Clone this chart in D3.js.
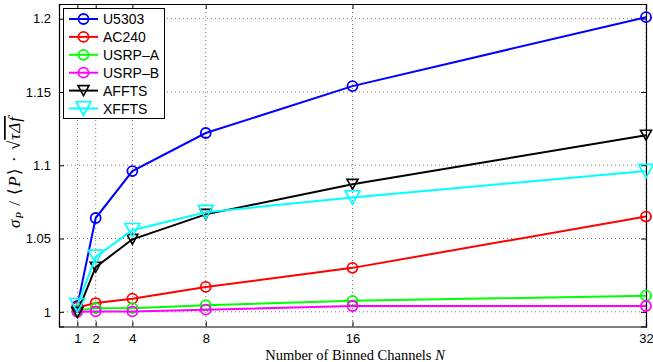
<!DOCTYPE html>
<html>
<head>
<meta charset="utf-8">
<script src="https://cdn.jsdelivr.net/npm/d3@7"></script>
<style>
	body { margin: 0; background: #fff; }
	.grid line { stroke: #555; stroke-dasharray: 1 3; stroke-width: 0.8; }
</style>
</head>
<body>
<svg id="plot" width="653" height="362"></svg>
<script>

const CHANNELS = [1, 2, 4, 8, 16, 32];
const X_TICKS = [1, 2, 4, 8, 16, 32];
const Y_TICKS = [1, 1.05, 1.1, 1.15, 1.2];

const U5303 = [1.004, 1.064, 1.096, 1.122, 1.154, 1.201];
const AC240 = [1.003, 1.006, 1.009, 1.017, 1.030, 1.065];
const USRP_A = [1.001, 1.0025, 1.0025, 1.0045, 1.0075, 1.011];
const USRP_B = [1.000, 1.0003, 1.0003, 1.0015, 1.004, 1.004];
const AFFTS = [0.9995, 1.0305, 1.0495, 1.0665, 1.087, 1.1205];
const XFFTS = [1.0045, 1.0375, 1.0557, 1.068, 1.078, 1.096];

const SERIES = [
	{ name: 'U5303', values: U5303, color: '#0000ff', marker: 'circle' },
	{ name: 'AC240', values: AC240, color: '#ff0000', marker: 'circle' },
	{ name: 'USRP\u2012A', values: USRP_A, color: '#00ff00', marker: 'circle' },
	{ name: 'USRP\u2012B', values: USRP_B, color: '#ff00ff', marker: 'circle' },
	{ name: 'AFFTS', values: AFFTS, color: '#000000', marker: 'tri' },
	{ name: 'XFFTS', values: XFFTS, color: '#00ffff', marker: 'bigtri' }
];

const SANS = '"Liberation Sans", Arial, sans-serif';
const SERIF = '"Liberation Serif", "Times New Roman", serif';
const L = 59, R = 646, T = 4, B = 326.5;

const svg = d3.select('#plot');
const x = d3.scaleLinear().domain([0, 32]).range([L, R]);
const y = d3.scaleLinear().domain([0.99, 1.21]).range([B, T]);

// grid
const grid = svg.append('g').attr('class', 'grid');
grid.selectAll('.gx').data(X_TICKS).enter().append('line')
	.attr('x1', d => x(d)).attr('x2', d => x(d)).attr('y1', T).attr('y2', B);
grid.selectAll('.gy').data(Y_TICKS).enter().append('line')
	.attr('x1', L).attr('x2', R).attr('y1', d => y(d)).attr('y2', d => y(d));

// axes, ticks inward on all four sides
const fmt = d => d3.format('~g')(d);
svg.append('g').attr('transform', `translate(0,${B})`)
	.call(d3.axisBottom(x).tickValues(X_TICKS).tickSize(-5).tickPadding(7).tickFormat(fmt));
svg.append('g').attr('transform', `translate(0,${T})`)
	.call(d3.axisTop(x).tickValues(X_TICKS).tickSize(-5).tickFormat(''));
svg.append('g').attr('transform', `translate(${L},0)`)
	.call(d3.axisLeft(y).tickValues(Y_TICKS).tickSize(-5).tickPadding(8).tickFormat(fmt));
svg.append('g').attr('transform', `translate(${R},0)`)
	.call(d3.axisRight(y).tickValues(Y_TICKS).tickSize(-5).tickFormat(''));
svg.selectAll('.domain').attr('stroke', '#000').attr('stroke-width', 1.2);
svg.selectAll('.tick line').attr('stroke', '#000');
svg.selectAll('.tick text').attr('font-size', 13).attr('fill', '#000')
	.style('font-family', SANS);

const triPath = (s) => {
	const h = s * 0.9;
	return `M${-s / 2},${-h / 2}L${s / 2},${-h / 2}L0,${h / 2}Z`;
};

function drawMarker(g, m, color) {
	if (m === 'circle') {
		g.append('circle').attr('r', 5).attr('fill', 'none')
			.attr('stroke', color).attr('stroke-width', 1.8);
	} else {
		const s = m === 'tri' ? 11 : 15;
		g.append('path').attr('d', triPath(s)).attr('fill', 'none')
			.attr('stroke', color).attr('stroke-width', 1.6);
	}
}

const line = d3.line().x(d => x(d[0])).y(d => y(d[1]));

SERIES.forEach(s => {
	const pts = CHANNELS.map((c, i) => [c, s.values[i]]);
	svg.append('path').datum(pts).attr('d', line)
		.attr('fill', 'none').attr('stroke', s.color).attr('stroke-width', 2);
	pts.forEach(p => {
		const g = svg.append('g').attr('transform', `translate(${x(p[0])},${y(p[1])})`);
		drawMarker(g, s.marker, s.color);
	});
});

// legend
const leg = svg.append('g');
leg.append('rect').attr('x', 63.5).attr('y', 8.5).attr('width', 101).attr('height', 110)
	.attr('fill', '#fff').attr('stroke', '#000').attr('stroke-width', 1);
SERIES.forEach((s, i) => {
	const yy = 19 + i * 17.9;
	leg.append('line').attr('x1', 69).attr('x2', 98).attr('y1', yy).attr('y2', yy)
		.attr('stroke', s.color).attr('stroke-width', 2);
	const g = leg.append('g').attr('transform', `translate(83.5,${yy})`);
	drawMarker(g, s.marker, s.color);
	leg.append('text').attr('x', 103).attr('y', yy + 5).attr('font-size', 14)
		.style('font-family', SANS).text(s.name);
});

// axis labels
svg.append('text').attr('x', 355).attr('y', 360).attr('text-anchor', 'middle')
	.style('font-family', SERIF).attr('font-size', 14.5)
	.text('Number of Binned Channels ')
	.append('tspan').attr('font-style', 'italic').text('N');

const yl = svg.append('text').attr('transform', 'translate(20,172) rotate(-90)')
	.attr('text-anchor', 'middle')
	.style('font-family', SERIF).attr('font-size', 17).attr('letter-spacing', 1);
yl.append('tspan').attr('font-style', 'italic').text('σ');
yl.append('tspan').attr('font-style', 'italic').attr('font-size', 11).attr('dy', 3).text('P');
yl.append('tspan').attr('dy', -3).text(' / ⟨');
yl.append('tspan').attr('font-style', 'italic').text('P');
yl.append('tspan').text('⟩ · √');
yl.append('tspan').attr('font-style', 'italic').attr('text-decoration', 'overline').text('τΔf');

</script>
</body>
</html>
